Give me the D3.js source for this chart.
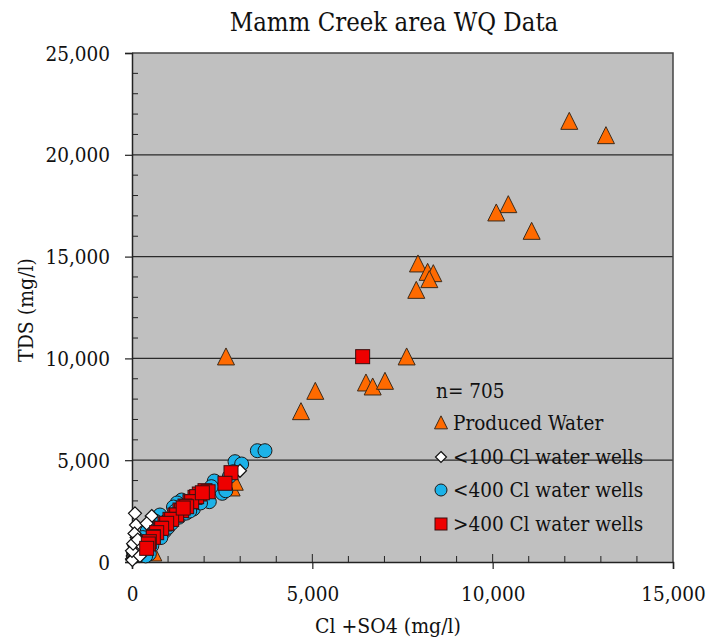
<!DOCTYPE html>
<html><head><meta charset="utf-8">
<script src="https://cdn.jsdelivr.net/npm/d3@7"></script>
<style>body{margin:0;background:#fff}svg{display:block}text{font-stretch:condensed}</style>
</head><body><svg id="c" width="709" height="642"></svg>
<script>
const title = "Mamm Creek area WQ Data";
const xTitle = "Cl +SO4 (mg/l)";
const yTitle = "TDS (mg/l)";
const xTicks = [0, 5000, 10000, 15000];
const yTicks = [0, 5000, 10000, 15000, 20000, 25000];
const legendNote = "n= 705";
const seriesNames = ["Produced Water", "<100 Cl water wells", "<400 Cl water wells", ">400 Cl water wells"];

// Produced Water [Cl+SO4, TDS]
const produced = [[12124,21626],[13141,20923],[10433,17534],[10100,17126],[11081,16224],[7929,14622],[8197,14209],[8354,14145],[8243,13851],[7882,13325],[2606,10054],[7615,10054],[6487,8776],[6673,8579],[7014,8857],[5082,8365],[4685,7367],[2763,3619],[591,427],[2850,3900]];
// <100 Cl water wells
const lt100 = [[83,2390],[111,1817],[546,2259],[407,1900],[2994,4480],[0,150],[20,300],[30,450],[50,350],[80,600],[100,250],[60,800],[120,500],[150,700],[40,200],[10,100],[200,900],[90,1000],[130,1200],[70,1400],[180,400],[250,600],[0,550],[30,900],[160,1100],[220,300],[300,750]];
// <400 Cl water wells
const lt400 = [[3475,5467],[3687,5467],[2856,4927],[3040,4813],[2809,4436],[2282,3978],[2504,3373],[2144,2963],[1377,3045],[1250,2900],[1150,2700],[776,2308],[650,2000],[500,1800],[420,1500],[300,1200],[250,1000],[200,800],[150,600],[100,500],[80,300],[50,400],[180,350],[300,500],[400,700],[350,900],[600,1100],[700,1300],[900,1500],[1000,1700],[1100,1900],[1300,2200],[1500,2400],[1700,2600],[1900,2900],[2600,3500],[2700,4200],[2200,3700],[1600,2500],[800,1200],[550,800],[950,2000],[1200,2500],[480,400],[380,300]];
// >400 Cl water wells
const gt400 = [[6395,10085],[2745,4387],[2578,3866],[2024,3503],[2110,3450],[1866,3340],[1747,3176],[1793,3209],[1608,2963],[1654,2963],[1469,2750],[1516,2717],[1331,2554],[1377,2521],[1192,2308],[1238,2308],[1053,2095],[1100,2095],[915,1866],[961,1900],[795,1654],[822,1654],[684,1441],[591,1244],[591,1212],[480,998],[452,884],[407,671],[1950,3400],[1420,2650]];

const FONT = '"DejaVu Serif", serif';
const m = {l:132, r:673, t:53, b:562};
const svg = d3.select("#c").attr("font-family", FONT);
const x = d3.scaleLinear().domain([0, 15000]).range([m.l, m.r]);
const y = d3.scaleLinear().domain([0, 25000]).range([m.b, m.t]);

svg.append("rect").attr("x", m.l).attr("y", m.t).attr("width", m.r - m.l).attr("height", m.b - m.t).attr("fill", "#c0c0c0");

svg.append("g").selectAll("line").data(yTicks.filter(d => d > 0 && d < 25000)).join("line")
  .attr("x1", m.l).attr("x2", m.r).attr("y1", d => y(d)).attr("y2", d => y(d))
  .attr("stroke", "#2a2a2a").attr("stroke-width", 1.2);
svg.append("path").attr("d", `M${m.l},${m.t}H${m.r}V${m.b}`).attr("fill", "none").attr("stroke", "#444").attr("stroke-width", 1.5);

const fmt = d3.format(",");
const xAx = svg.append("g").attr("transform", `translate(0,${m.b})`)
  .call(d3.axisBottom(x).tickValues(xTicks).tickFormat(fmt).tickSize(7).tickPadding(17));
const yAx = svg.append("g").attr("transform", `translate(${m.l},0)`)
  .call(d3.axisLeft(y).tickValues(yTicks).tickFormat(fmt).tickSize(7).tickPadding(15));
[xAx, yAx].forEach(a => {
  a.attr("font-family", FONT).attr("font-size", 21);
  a.select(".domain").attr("stroke", "#222").attr("stroke-width", 1.5);
  a.selectAll(".tick line").attr("stroke", "#222").attr("stroke-width", 1.2);
  a.selectAll("text").attr("fill", "#111").style("font-family", FONT).style("font-size", "20.5px");
});
yAx.selectAll(".tick text").attr("dy", "0.35em");
svg.append("g").selectAll("line").data(d3.range(1000, 15000, 1000).filter(d => d % 5000)).join("line")
  .attr("x1", d => x(d)).attr("x2", d => x(d)).attr("y1", m.b).attr("y2", m.b - 6).attr("stroke", "#222");
svg.append("g").selectAll("line").data(d3.range(1000, 25000, 1000).filter(d => d % 5000)).join("line")
  .attr("y1", d => y(d)).attr("y2", d => y(d)).attr("x1", m.l).attr("x2", m.l + 6).attr("stroke", "#222");
svg.append("g").selectAll("line").data(xTicks.slice(1, 3)).join("line")
  .attr("x1", d => x(d)).attr("x2", d => x(d)).attr("y1", m.b).attr("y2", m.b - 8).attr("stroke", "#222");

const tri = (cx, cy, s) => `M${cx},${cy - s * 0.55}L${cx + s / 2},${cy + s * 0.45}L${cx - s / 2},${cy + s * 0.45}Z`;
const dia = (cx, cy, s) => `M${cx},${cy - s}L${cx + s},${cy}L${cx},${cy + s}L${cx - s},${cy}Z`;

const pts = svg.append("g");
pts.selectAll(".pw").data(produced).join("path").attr("class", "pw")
  .attr("d", d => tri(x(d[0]), y(d[1]), 17)).attr("fill", "#ff6a00").attr("stroke", "#3a2a1a").attr("stroke-width", 1);
pts.selectAll(".c4").data(lt400).join("circle").attr("class", "c4")
  .attr("cx", d => x(d[0])).attr("cy", d => y(d[1])).attr("r", 7).attr("fill", "#1cb2e8").attr("stroke", "#1a1a1a").attr("stroke-width", 1);
pts.selectAll(".d1").data(lt100).join("path").attr("class", "d1")
  .attr("d", d => dia(x(d[0]), y(d[1]), 6.5)).attr("fill", "#fff").attr("stroke", "#111").attr("stroke-width", 1.2);
pts.selectAll(".s4").data(gt400).join("rect").attr("class", "s4")
  .attr("x", d => x(d[0]) - 7).attr("y", d => y(d[1]) - 7).attr("width", 14).attr("height", 14)
  .attr("fill", "#ee0000").attr("stroke", "#3a1010").attr("stroke-width", 1);

const T = (sel) => sel.attr("fill", "#111").style("font-family", FONT);
T(svg.append("text").attr("x", 394).attr("y", 31).attr("text-anchor", "middle").style("font-size", "25.5px").text(title));
T(svg.append("text").attr("x", 388).attr("y", 633).attr("text-anchor", "middle").style("font-size", "21px").text(xTitle));
T(svg.append("text").attr("transform", "translate(33,310) rotate(-90)").attr("text-anchor", "middle").style("font-size", "21px").text(yTitle));

const lg = svg.append("g");
T(lg.append("text").attr("x", 436).attr("y", 398).style("font-size", "20.5px").text(legendNote));
const ly = [423, 457, 490, 524];
const lx = 441;
lg.append("path").attr("d", tri(lx, ly[0], 13)).attr("fill", "#ff6a00").attr("stroke", "#3a2a1a");
lg.append("path").attr("d", dia(lx, ly[1], 5.5)).attr("fill", "#fff").attr("stroke", "#111").attr("stroke-width", 1.2);
lg.append("circle").attr("cx", lx).attr("cy", ly[2]).attr("r", 6).attr("fill", "#1cb2e8").attr("stroke", "#1a1a1a");
lg.append("rect").attr("x", lx - 6).attr("y", ly[3] - 6).attr("width", 12).attr("height", 12).attr("fill", "#ee0000").attr("stroke", "#3a1010");
T(lg.selectAll(".lt").data(seriesNames).join("text").attr("class", "lt")
  .attr("x", 453).attr("y", (d, i) => ly[i] + 7).style("font-size", "20.5px").text(d => d));
</script></body></html>
